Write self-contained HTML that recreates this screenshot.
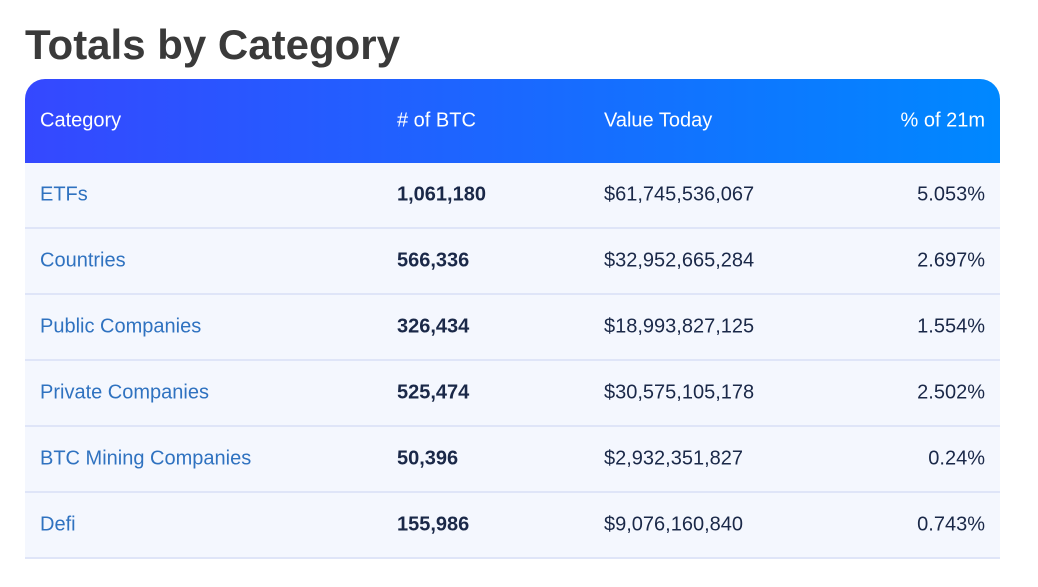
<!DOCTYPE html>
<html><head><meta charset="utf-8"><style>
body{margin:0;width:1038px;height:587px;background:#fff;font-family:"Liberation Sans",sans-serif;position:relative;overflow:hidden}
h1{position:absolute;left:25px;top:20px;margin:0;font-size:42px;font-weight:bold;color:#3a3a3a;letter-spacing:0px;line-height:50px}
.tbl{position:absolute;left:25px;top:79px;width:975px}
.hdr{height:84px;border-radius:20px 20px 0 0;background:linear-gradient(90deg,#3548ff,#0088ff);position:relative;color:#fff;font-size:20px}
.row{height:64px;background:#f4f7fe;border-bottom:2px solid #dfe5f8;position:relative;font-size:20px;color:#1a2848}
.c{position:absolute;top:50%;transform:translateY(-50%);white-space:nowrap}
.c1{left:15px}.c2{left:372px}.c3{left:579px}.c4{right:15px}
.row .c1{color:#2f72c0}.row .c2{font-weight:bold}
</style></head><body>
<h1>Totals by Category</h1>
<div class="tbl">
<div class="hdr">
<span class="c c1">Category</span>
<span class="c c2"># of BTC</span>
<span class="c c3">Value Today</span>
<span class="c c4">% of 21m</span>
</div>
<div id="rows"></div>
</div>
<script>
const categories=["ETFs","Countries","Public Companies","Private Companies","BTC Mining Companies","Defi"];
const btc=["1,061,180","566,336","326,434","525,474","50,396","155,986"];
const values=["$61,745,536,067","$32,952,665,284","$18,993,827,125","$30,575,105,178","$2,932,351,827","$9,076,160,840"];
const pct=["5.053%","2.697%","1.554%","2.502%","0.24%","0.743%"];
const rows=document.getElementById('rows');
categories.forEach((c,i)=>{
const r=document.createElement('div');r.className='row';


const a=document.createElement('span');a.className='c c1';a.textContent=c;


const b=document.createElement('span');b.className='c c2';b.textContent=btc[i];


const v=document.createElement('span');v.className='c c3';v.textContent=values[i];


const p=document.createElement('span');p.className='c c4';p.textContent=pct[i];


r.append(a,b,v,p);rows.appendChild(r);
});
</script>
</body></html>
